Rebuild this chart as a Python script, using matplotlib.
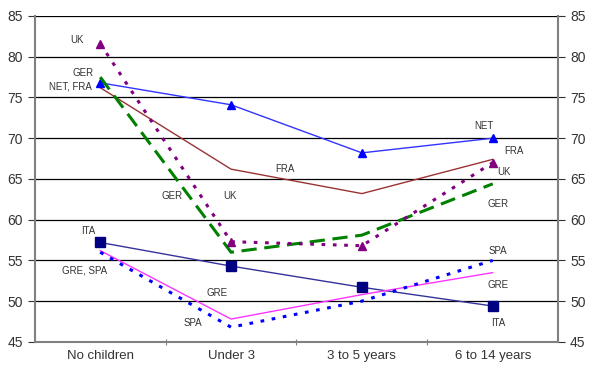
import matplotlib.pyplot as plt

plt.rcParams['font.family'] = ['Liberation Sans', 'DejaVu Sans']

categories = ["No children", "Under 3", "3 to 5 years", "6 to 14 years"]
net = [76.8, 74.1, 68.2, 70.0]
fra = [76.2, 66.2, 63.2, 67.4]
uk = [81.6, 57.3, 56.8, 67.0]
ger = [77.5, 56.0, 58.1, 64.4]
ita = [57.2, 54.3, 51.7, 49.4]
gre = [56.2, 47.8, 50.8, 53.5]
spa = [56.0, 46.8, 50.0, 55.0]

# label text, x (category index), y (value)
labels = [
    ("UK", -0.18, 82.0), ("GER", -0.13, 78.0), ("NET, FRA", -0.23, 76.4),
    ("ITA", -0.09, 58.6), ("GRE, SPA", -0.12, 53.8),
    ("GER", 0.55, 62.9), ("UK", 0.99, 62.9), ("GRE", 0.89, 51.0), ("SPA", 0.71, 47.3),
    ("FRA", 1.41, 66.2),
    ("NET", 2.93, 71.5), ("FRA", 3.16, 68.4), ("UK", 3.09, 65.9), ("GER", 3.04, 61.9),
    ("SPA", 3.04, 56.2), ("GRE", 3.04, 52.0), ("ITA", 3.04, 47.3),
]

x = range(len(categories))

fig = plt.figure(figsize=(5.9, 3.72), dpi=100)
ax = fig.add_axes([0.059, 0.081, 0.887, 0.876])

for v in range(50, 90, 5):
    ax.axhline(v, color="black", lw=0.9, zorder=0)

ax.plot(x, fra, color="#993333", lw=1.0)
ax.plot(x, net, color="#3333ff", lw=1.0, marker="^", ms=6, mfc="#0000ff", mec="#0000ff")
ax.plot(x, ger, color="#008000", lw=2.2, dashes=(5, 2.5))
ax.plot(x, uk, color="#800080", lw=2.2, dashes=(1.2, 2.5), marker="^", ms=6,
        mfc="#800080", mec="#800080")
ax.plot(x, ita, color="#333399", lw=1.0, marker="s", ms=7, mfc="#000080", mec="#000080")
ax.plot(x, gre, color="#ff33ff", lw=1.0)
ax.plot(x, spa, color="#0000ff", lw=2.2, dashes=(1.2, 2.5))

for t, lx, ly in labels:
    ax.text(lx, ly, t, fontsize=7, color="#333333", ha="center", va="center")

ax.set_xlim(-0.5, 3.5)
ax.set_ylim(45, 85)
ax.set_yticks(range(45, 90, 5))
ax.set_xticks([0.5, 1.5, 2.5])
ax.set_xticklabels([])
ax.set_xticks(list(x), minor=True)
ax.set_xticklabels(categories, minor=True, fontsize=9.5, color="#333333")
ax.tick_params(axis="x", which="minor", length=0, pad=6)
ax.tick_params(axis="x", which="major", length=4, color="#808080", direction="inout")
ax.tick_params(axis="y", labelsize=10, colors="#333333", length=5, direction="out",
               left=True, right=True, labelright=True)
for s in ["left", "right", "bottom"]:
    ax.spines[s].set_color("#808080")
    ax.spines[s].set_linewidth(1.5)
ax.spines["top"].set_visible(False)

fig.savefig("out.png", dpi=100)
